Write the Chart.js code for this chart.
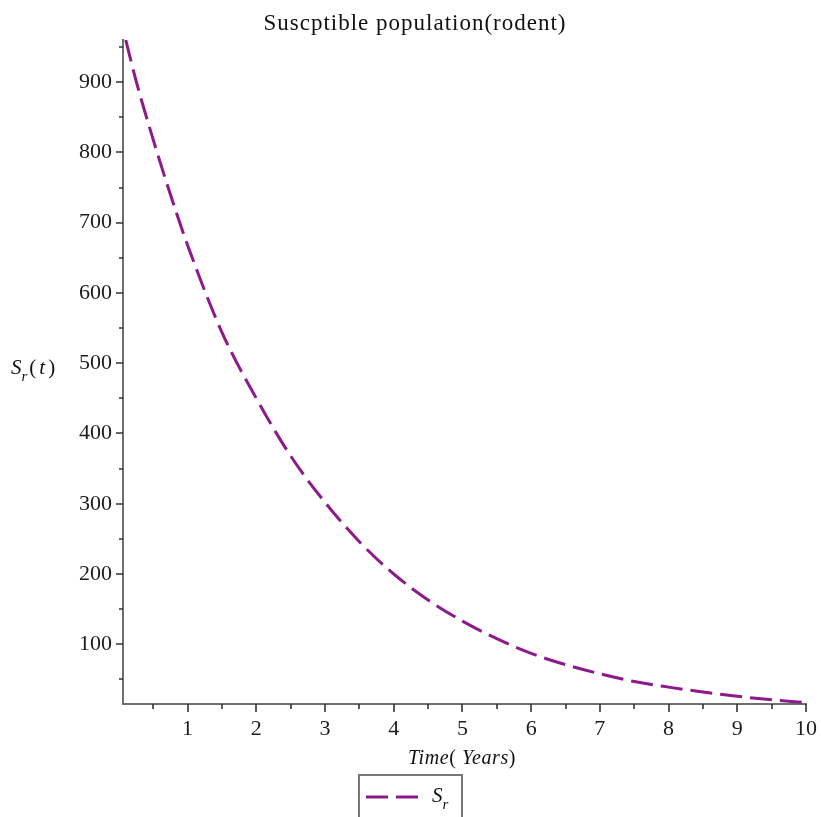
<!DOCTYPE html>
<html>
<head>
<meta charset="utf-8">
<title>Susceptible population (rodent)</title>
<script src="https://cdn.jsdelivr.net/npm/chart.js@4.4.1/dist/chart.umd.min.js"></script>
<style>
  html, body { margin: 0; padding: 0; background: #ffffff; }
  #wrap { position: relative; width: 821px; height: 817px; overflow: hidden; }
</style>
</head>
<body>
<div id="wrap"><canvas id="chart" width="821" height="817"></canvas></div>
<script>
// Time in years and the susceptible rodent population S_r(t)
const times = [0.1, 0.25, 0.5, 0.75, 1, 1.5, 2, 2.5, 3, 3.5, 4, 4.5, 5, 5.5, 6, 6.5, 7, 7.5, 8, 8.5, 9, 9.5, 10];
const susceptible = [960, 902, 818, 740, 668, 544, 450, 368, 302, 246, 200, 163, 133, 108, 87, 71, 58, 47, 39, 32, 26, 21, 17];

// Axis ticks
const xMajorTicks = [1, 2, 3, 4, 5, 6, 7, 8, 9, 10];
const xMinorTicks = [0.5, 1.5, 2.5, 3.5, 4.5, 5.5, 6.5, 7.5, 8.5, 9.5];
const yMajorTicks = [100, 200, 300, 400, 500, 600, 700, 800, 900];
const yMinorTicks = [50, 150, 250, 350, 450, 550, 650, 750, 850, 950];

const titleText = 'Suscptible population(rodent)';
const lineColor = '#8c1a8a';
const serif = '"Liberation Serif", "Times New Roman", serif';

// Tick marks on the outside of both axes, major and minor
const tickMarks = {
  id: 'tickMarks',
  afterDraw(chart) {
    const ctx = chart.ctx;
    const xs = chart.scales.x, ys = chart.scales.y;
    const area = chart.chartArea;
    ctx.save();
    ctx.strokeStyle = '#333333';
    ctx.lineWidth = 1.6;
    ctx.beginPath();
    xMajorTicks.forEach(v => { const p = Math.round(xs.getPixelForValue(v)); ctx.moveTo(p, area.bottom); ctx.lineTo(p, area.bottom + 8); });
    xMinorTicks.forEach(v => { const p = Math.round(xs.getPixelForValue(v)); ctx.moveTo(p, area.bottom); ctx.lineTo(p, area.bottom + 5); });
    yMajorTicks.forEach(v => { const p = Math.round(ys.getPixelForValue(v)); ctx.moveTo(area.left, p); ctx.lineTo(area.left - 7, p); });
    yMinorTicks.forEach(v => { const p = Math.round(ys.getPixelForValue(v)); ctx.moveTo(area.left, p); ctx.lineTo(area.left - 4, p); });
    ctx.stroke();
    ctx.restore();
  }
};

// Title, axis labels with subscripts, and the boxed legend
const annotations = {
  id: 'annotations',
  afterDraw(chart) {
    const ctx = chart.ctx;
    const area = chart.chartArea;
    ctx.save();
    ctx.fillStyle = '#111111';
    ctx.textBaseline = 'alphabetic';

    // title
    ctx.font = '23px ' + serif;
    ctx.letterSpacing = '1px';
    ctx.textAlign = 'center';
    ctx.fillText(titleText, 415, 30);
    ctx.letterSpacing = '0px';

    // y-axis label: S_r(t)
    ctx.textAlign = 'left';
    let x = 11;
    const yb = 374;
    ctx.font = 'italic 21px ' + serif;
    ctx.fillText('S', x, yb); x += ctx.measureText('S').width;
    ctx.font = 'italic 15px ' + serif;
    ctx.fillText('r', x, yb + 7); x += ctx.measureText('r').width + 2;
    ctx.font = '21px ' + serif;
    ctx.fillText('(', x, yb); x += ctx.measureText('(').width + 3;
    ctx.font = 'italic 21px ' + serif;
    ctx.fillText('t', x, yb); x += ctx.measureText('t').width + 3;
    ctx.font = '21px ' + serif;
    ctx.fillText(')', x, yb);

    // x-axis label: Time( Years)
    ctx.letterSpacing = '0.6px';
    const parts = [
      ['italic 20px ' + serif, 'Time'],
      ['20px ' + serif, '( '],
      ['italic 20px ' + serif, 'Years'],
      ['20px ' + serif, ')']
    ];
    let total = 0;
    parts.forEach(([f, t]) => { ctx.font = f; total += ctx.measureText(t).width; });
    x = 462 - total / 2;
    parts.forEach(([f, t]) => { ctx.font = f; ctx.fillText(t, x, 764); x += ctx.measureText(t).width; });
    ctx.letterSpacing = '0px';

    // legend
    ctx.strokeStyle = '#777777';
    ctx.lineWidth = 2;
    ctx.strokeRect(359, 775, 103, 60);
    ctx.strokeStyle = lineColor;
    ctx.lineWidth = 3;
    ctx.setLineDash([22, 8]);
    ctx.beginPath();
    ctx.moveTo(366, 797);
    ctx.lineTo(418, 797);
    ctx.stroke();
    ctx.setLineDash([]);
    ctx.fillStyle = '#111111';
    ctx.font = 'italic 21px ' + serif;
    ctx.fillText('S', 432, 802);
    const sw = ctx.measureText('S').width;
    ctx.font = 'italic 15px ' + serif;
    ctx.fillText('r', 432 + sw, 809);
    ctx.restore();
  }
};

new Chart(document.getElementById('chart'), {
  type: 'line',
  data: {
    datasets: [{
      label: 'S_r',
      data: times.map((t, i) => ({ x: t, y: susceptible[i] })),
      borderColor: lineColor,
      borderWidth: 3,
      borderDash: [22, 8],
      pointRadius: 0,
      fill: false,
      cubicInterpolationMode: 'monotone'
    }]
  },
  options: {
    responsive: false,
    animation: false,
    events: [],
    layout: { padding: { left: 0, right: 15, top: 40, bottom: 0 } },
    plugins: {
      legend: { display: false },
      title: { display: false },
      tooltip: { enabled: false }
    },
    scales: {
      x: {
        type: 'linear',
        min: 0.06,
        max: 10,
        afterBuildTicks(scale) { scale.ticks = xMajorTicks.map(v => ({ value: v })); },
        afterFit(scale) { scale.height = 113; scale.paddingLeft = 0; scale.paddingRight = 0; },
        grid: { display: false, drawTicks: false },
        border: { display: true, color: '#6e6e6e', width: 2 },
        ticks: {
          color: '#1c1c1c',
          padding: 12,
          maxRotation: 0,
          autoSkip: false,
          font: { family: serif, size: 22 },
          callback: v => String(v)
        }
      },
      y: {
        type: 'linear',
        min: 15,
        max: 960,
        afterBuildTicks(scale) { scale.ticks = yMajorTicks.map(v => ({ value: v })); },
        afterFit(scale) { scale.width = 123; scale.paddingTop = 0; scale.paddingBottom = 0; },
        grid: { display: false, drawTicks: false },
        border: { display: true, color: '#6e6e6e', width: 2 },
        ticks: {
          color: '#1c1c1c',
          padding: 11,
          autoSkip: false,
          font: { family: serif, size: 22 },
          callback: v => String(v)
        }
      }
    }
  },
  plugins: [tickMarks, annotations]
});
</script>
</body>
</html>
